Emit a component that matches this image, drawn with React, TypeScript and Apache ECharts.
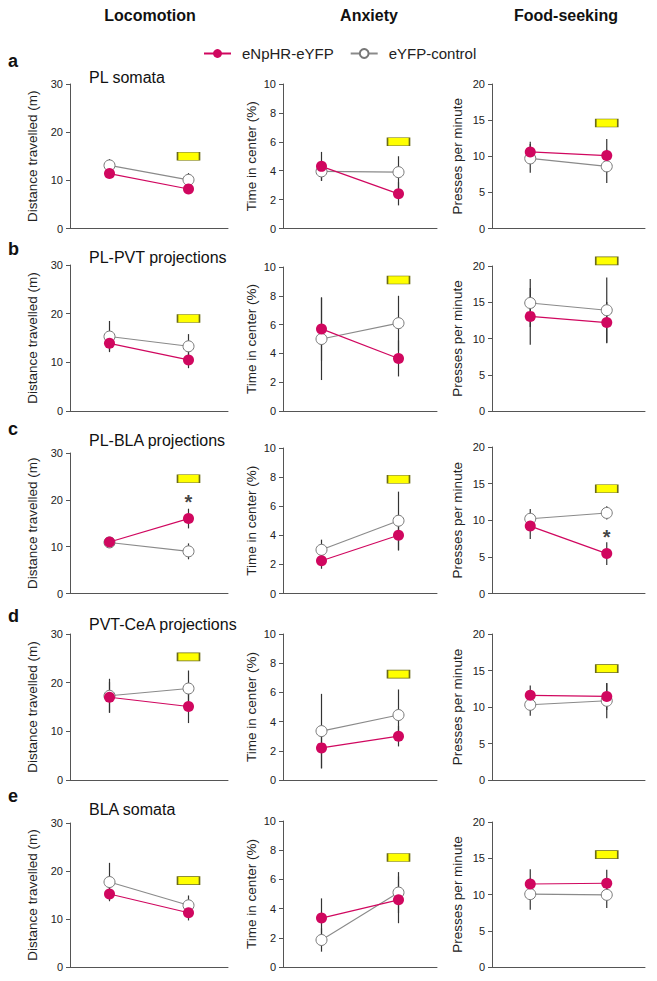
import React, { useEffect, useRef } from 'react';
import * as echarts from 'echarts';

// ---------- data ----------
const categories = ['Light off', 'Light on'];
const columnTitles = ['Locomotion', 'Anxiety', 'Food-seeking'];
const rowLetters = ['a', 'b', 'c', 'd', 'e'];
const rowTitles = ['PL somata', 'PL-PVT projections', 'PL-BLA projections', 'PVT-CeA projections', 'BLA somata'];
const yAxisNames = ['Distance travelled (m)', 'Time in center (%)', 'Presses per minute'];
const yMax = [30, 10, 20];
const yInterval = [10, 2, 5];
const legendNames = ['eNpHR-eYFP', 'eYFP-control'];

// Locomotion (distance travelled, m)
const locoNpHR = [[11.4, 8.2], [13.9, 10.5], [11.0, 16.0], [17.0, 15.1], [15.2, 11.3]];
const locoNpHRErr = [[0.8, 0.8], [1.5, 1.7], [0.8, 2.1], [3.1, 3.4], [1.3, 1.6]];
const locoCtrl = [[13.1, 10.1], [15.3, 13.3], [10.9, 9.0], [17.3, 18.8], [17.7, 12.85]];
const locoCtrlErr = [[1.3, 1.4], [3.2, 2.5], [0.8, 1.7], [3.5, 3.7], [4.0, 2.05]];
const locoBox = [15.0, 19.0, 24.5, 25.3, 18.0];

// Anxiety (time in center, %)
const anxNpHR = [[4.3, 2.4], [5.7, 3.65], [2.25, 4.0], [2.2, 3.0], [3.35, 4.6]];
const anxNpHRErr = [[1.0, 0.8], [2.2, 1.25], [0.55, 1.05], [1.4, 0.7], [1.35, 1.6]];
const anxCtrl = [[3.95, 3.9], [5.0, 6.1], [3.0, 5.0], [3.35, 4.45], [1.85, 5.1]];
const anxCtrlErr = [[0.65, 1.1], [2.85, 1.9], [0.7, 2.0], [2.55, 1.75], [0.8, 1.4]];
const anxBox = [6.0, 9.1, 7.85, 7.25, 7.5];

// Food-seeking (presses per minute)
const foodNpHR = [[10.6, 10.1], [13.05, 12.2], [9.2, 5.45], [11.6, 11.45], [11.45, 11.55]];
const foodNpHRErr = [[1.4, 2.3], [3.9, 2.85], [1.75, 1.55], [1.35, 1.85], [2.05, 1.85]];
const foodCtrl = [[9.7, 8.6], [14.9, 13.9], [10.2, 11.0], [10.3, 10.85], [10.05, 9.95]];
const foodCtrlErr = [[2.0, 2.3], [3.3, 4.5], [1.35, 0.9], [1.5, 2.4], [2.15, 1.8]];
const foodBox = [14.6, 20.7, 14.3, 15.25, 15.5];

// significance asterisks: [row, column, value]
const asterisks = [[2, 0, 20.6], [2, 2, 8.4]];

// ---------- styling / layout ----------
const FONT = 'Arial, "Liberation Sans", Helvetica, sans-serif';
const PINK = '#d0075f';
const GRAY = '#8a8a8a';
const AXIS = '#555';
const gridLeft = [70, 283, 492];
const gridWidth = [158, 154, 153];
const gridTop = [[84, 84, 84], [265, 267, 266], [453, 448, 447], [634, 634, 634], [823, 821, 822]];
const gridBottom = [228.5, 411, 593.5, 780, 967];
const nameGaps = [31, 25, 28];
const letterY = [61, 249, 429, 616, 796];
const titleY = [77.7, 257.7, 440, 624.4, 809.4];
const headerX = [150, 369, 566];

const npHRMeans = [locoNpHR, anxNpHR, foodNpHR];
const npHRErrs = [locoNpHRErr, anxNpHRErr, foodNpHRErr];
const ctrlMeans = [locoCtrl, anxCtrl, foodCtrl];
const ctrlErrs = [locoCtrlErr, anxCtrlErr, foodCtrlErr];
const boxes = [locoBox, anxBox, foodBox];

function buildOption() {
  const grids: any[] = [];
  const xAxes: any[] = [];
  const yAxes: any[] = [];
  const series: any[] = [];
  for (let r = 0; r < 5; r++) {
    for (let c = 0; c < 3; c++) {
      const idx = r * 3 + c;
      grids.push({
        left: gridLeft[c],
        width: gridWidth[c],
        top: gridTop[r][c],
        height: gridBottom[r] - gridTop[r][c],
      });
      xAxes.push({
        type: 'category',
        gridIndex: idx,
        data: categories,
        boundaryGap: true,
        axisLine: { show: true, lineStyle: { color: AXIS, width: 1 } },
        axisTick: { show: false },
        axisLabel: { show: false },
        splitLine: { show: false },
      });
      yAxes.push({
        type: 'value',
        gridIndex: idx,
        min: 0,
        max: yMax[c],
        interval: yInterval[c],
        name: yAxisNames[c],
        nameLocation: 'middle',
        nameGap: nameGaps[c],
        nameTextStyle: { fontFamily: FONT, fontSize: 13.5, color: '#222' },
        axisLine: { show: true, lineStyle: { color: AXIS, width: 1 } },
        axisTick: { show: true, length: 4, lineStyle: { color: AXIS } },
        axisLabel: { margin: 7, fontSize: 11, color: '#222', fontFamily: FONT },
        splitLine: { show: false },
      });
      const errData: any[] = [];
      for (let i = 0; i < 2; i++) {
        const m1 = ctrlMeans[c][r][i], e1 = ctrlErrs[c][r][i];
        errData.push([i, m1 - e1, m1 + e1]);
        const m2 = npHRMeans[c][r][i], e2 = npHRErrs[c][r][i];
        errData.push([i, m2 - e2, m2 + e2]);
      }
      series.push({
        type: 'custom',
        name: 'sem',
        xAxisIndex: idx,
        yAxisIndex: idx,
        z: 1,
        data: errData,
        encode: { x: 0, y: [1, 2] },
        renderItem: (params: any, api: any) => {
          const x = api.value(0);
          const p1 = api.coord([x, api.value(1)]);
          const p2 = api.coord([x, api.value(2)]);
          return {
            type: 'line',
            shape: { x1: p1[0], y1: p1[1], x2: p2[0], y2: p2[1] },
            style: { stroke: '#333', lineWidth: 1.2 },
          };
        },
      });
      series.push({
        type: 'line',
        name: legendNames[1],
        xAxisIndex: idx,
        yAxisIndex: idx,
        z: 2,
        data: ctrlMeans[c][r],
        symbol: 'circle',
        symbolSize: 11,
        itemStyle: { color: '#fff', borderColor: '#777', borderWidth: 1 },
        lineStyle: { color: GRAY, width: 1.1 },
      });
      series.push({
        type: 'line',
        name: legendNames[0],
        xAxisIndex: idx,
        yAxisIndex: idx,
        z: 3,
        data: npHRMeans[c][r],
        symbol: 'circle',
        symbolSize: 11,
        itemStyle: { color: PINK, borderColor: PINK, borderWidth: 0 },
        lineStyle: { color: PINK, width: 1.2 },
      });
      series.push({
        type: 'scatter',
        name: 'light',
        xAxisIndex: idx,
        yAxisIndex: idx,
        z: 4,
        clip: false,
        symbol: 'rect',
        symbolSize: [22, 8],
        data: [[categories[1], boxes[c][r]]],
        itemStyle: { color: '#ffff00', borderColor: '#6b6b1a', borderWidth: 1, opacity: 1 },
      });
    }
  }
  asterisks.forEach(([r, c, v]) => {
    const idx = r * 3 + c;
    series.push({
      type: 'scatter',
      name: 'sig',
      xAxisIndex: idx,
      yAxisIndex: idx,
      z: 5,
      clip: false,
      symbol: 'circle',
      symbolSize: 2,
      itemStyle: { color: 'rgba(0,0,0,0)' },
      data: [[categories[1], v]],
      label: {
        show: true,
        formatter: '*',
        position: 'inside',
        offset: [0, 5],
        fontSize: 20,
        fontWeight: 'bold',
        color: '#111',
        fontFamily: FONT,
      },
    });
  });

  const graphic: any[] = [];
  columnTitles.forEach((t, c) => {
    graphic.push({
      type: 'text',
      x: headerX[c],
      y: 15,
      style: { text: t, fontFamily: FONT, fontSize: 16, fontWeight: 'bold', fill: '#111', align: 'center', verticalAlign: 'middle' },
    });
  });
  rowLetters.forEach((t, r) => {
    graphic.push({
      type: 'text',
      x: 8,
      y: letterY[r],
      style: { text: t, fontFamily: FONT, fontSize: 18, fontWeight: 'bold', fill: '#111', align: 'left', verticalAlign: 'middle' },
    });
  });
  rowTitles.forEach((t, r) => {
    graphic.push({
      type: 'text',
      x: 89,
      y: titleY[r],
      style: { text: t, fontFamily: FONT, fontSize: 16, fill: '#111', align: 'left', verticalAlign: 'middle' },
    });
  });

  return {
    animation: false,
    backgroundColor: '#fff',
    legend: {
      data: legendNames,
      left: 198,
      top: 41,
      itemWidth: 27,
      itemHeight: 11,
      itemGap: 16,
      selectedMode: false,
      textStyle: { fontFamily: FONT, fontSize: 15, color: '#222', padding: [0, 0, 0, 6] },
    },
    graphic,
    grid: grids,
    xAxis: xAxes,
    yAxis: yAxes,
    series,
  };
}

export default function App() {
  const ref = useRef<HTMLDivElement>(null);
  useEffect(() => {
    document.body.style.margin = '0';
    if (!ref.current) return;
    const chart = echarts.init(ref.current, undefined, { renderer: 'svg' });
    chart.setOption(buildOption() as any);
    return () => chart.dispose();
  }, []);
  return <div ref={ref} style={{ width: 657, height: 981 }} />;
}
